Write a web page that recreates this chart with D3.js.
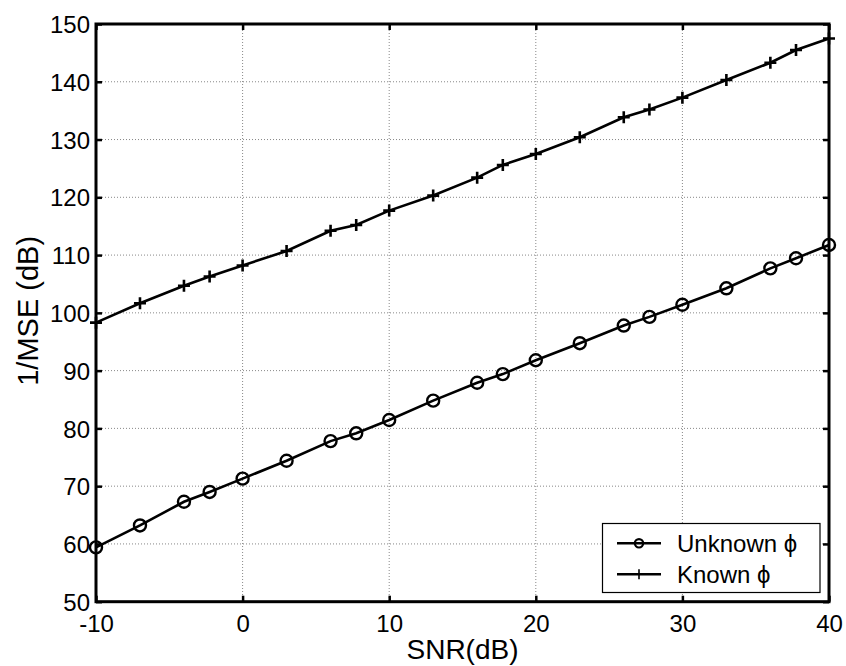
<!DOCTYPE html>
<html>
<head>
<meta charset="utf-8">
<script src="https://cdn.jsdelivr.net/npm/d3@7"></script>
<style>
  html, body { margin: 0; padding: 0; background: #fff; }
  svg { display: block; }
  text { font-family: "Liberation Sans", Arial, Helvetica, sans-serif; fill: #000; }
</style>
</head>
<body>
<svg id="chart" width="846" height="666"></svg>
<script>
// SNR sample points (dB)
const snr = [-10, -7, -4, -2.25, 0, 3, 6, 7.75, 10, 13, 16, 17.75, 20, 23, 26, 27.75, 30, 33, 36, 37.75, 40];
// 1/MSE (dB) with the phase unknown
const unknownPhi = [59.4, 63.2, 67.3, 69.0, 71.3, 74.4, 77.8, 79.15, 81.45, 84.8, 87.9, 89.4, 91.8, 94.75, 97.8, 99.3, 101.4, 104.25, 107.7, 109.45, 111.75];
// 1/MSE (dB) with the phase known
const knownPhi = [98.3, 101.65, 104.7, 106.3, 108.2, 110.7, 114.2, 115.2, 117.7, 120.3, 123.4, 125.6, 127.5, 130.4, 133.85, 135.2, 137.25, 140.3, 143.3, 145.5, 147.5];

const xTicks = [-10, 0, 10, 20, 30, 40];
const yTicks = [50, 60, 70, 80, 90, 100, 110, 120, 130, 140, 150];
const seriesNames = ["Unknown \u03d5", "Known \u03d5"];

const svg = d3.select("#chart");
const L = 96, R = 829, T = 24, B = 601.7;

const x = d3.scaleLinear().domain([-10, 40]).range([L, R]);
const y = d3.scaleLinear().domain([50, 150]).range([B, T]);

// dotted grid
const grid = svg.append("g");
grid.selectAll("line.gx").data(xTicks.slice(1, -1)).join("line")
  .attr("x1", d => x(d)).attr("x2", d => x(d)).attr("y1", T).attr("y2", B)
  .attr("stroke", "#888").attr("stroke-width", 1).attr("stroke-dasharray", "1,2");
grid.selectAll("line.gy").data(yTicks.slice(1, -1)).join("line")
  .attr("x1", L).attr("x2", R).attr("y1", d => y(d)).attr("y2", d => y(d))
  .attr("stroke", "#888").attr("stroke-width", 1).attr("stroke-dasharray", "1,2");

// axes with inward ticks on all four sides
const tickLen = 6;
const fmt = d => String(d);
const axB = svg.append("g").attr("transform", `translate(0,${B})`)
  .call(d3.axisBottom(x).tickValues(xTicks).tickSize(-tickLen).tickPadding(13).tickFormat(fmt));
const axT = svg.append("g").attr("transform", `translate(0,${T})`)
  .call(d3.axisTop(x).tickValues(xTicks).tickSize(-tickLen).tickFormat(""));
const axL = svg.append("g").attr("transform", `translate(${L},0)`)
  .call(d3.axisLeft(y).tickValues(yTicks).tickSize(-tickLen).tickPadding(6).tickFormat(fmt));
const axR = svg.append("g").attr("transform", `translate(${R},0)`)
  .call(d3.axisRight(y).tickValues(yTicks).tickSize(-tickLen).tickFormat(""));
[axB, axT, axL, axR].forEach(a => {
  a.select(".domain").remove();
  a.selectAll(".tick line").attr("stroke", "#000").attr("stroke-width", 2.5);
  a.selectAll(".tick text").attr("font-size", 24).attr("font-family", "Liberation Sans, Arial, sans-serif").attr("fill", "#000");
});
axB.selectAll(".tick text").attr("dy", "0.71em");
axL.selectAll(".tick text").attr("dy", "0.36em");

// frame
svg.append("rect").attr("x", L).attr("y", T).attr("width", R - L).attr("height", B - T)
  .attr("fill", "none").attr("stroke", "#000").attr("stroke-width", 3);

// series
const line = d3.line().x(d => x(d[0])).y(d => y(d[1]));
const unk = snr.map((s, i) => [s, unknownPhi[i]]);
const kno = snr.map((s, i) => [s, knownPhi[i]]);

svg.append("path").datum(unk).attr("d", line).attr("fill", "none").attr("stroke", "#000").attr("stroke-width", 2.6);
svg.append("path").datum(kno).attr("d", line).attr("fill", "none").attr("stroke", "#000").attr("stroke-width", 2.6);

svg.append("g").selectAll("circle").data(unk).join("circle")
  .attr("cx", d => x(d[0])).attr("cy", d => y(d[1])).attr("r", 6)
  .attr("fill", "none").attr("stroke", "#000").attr("stroke-width", 2.4);

const pm = 6;
svg.append("g").selectAll("path").data(kno).join("path")
  .attr("d", d => `M${x(d[0]) - pm},${y(d[1])}H${x(d[0]) + pm}M${x(d[0])},${y(d[1]) - pm}V${y(d[1]) + pm}`)
  .attr("fill", "none").attr("stroke", "#000").attr("stroke-width", 2.6);

// axis titles
svg.append("text").attr("x", (L + R) / 2).attr("y", 659).attr("text-anchor", "middle")
  .attr("font-size", 28).text("SNR(dB)");
svg.append("text").attr("transform", `translate(38,${(T + B) / 2 - 2}) rotate(-90)`)
  .attr("text-anchor", "middle").attr("font-size", 29).text("1/MSE (dB)");

// legend
const lg = svg.append("g");
lg.append("rect").attr("x", 602.5).attr("y", 523.5).attr("width", 217.5).attr("height", 69)
  .attr("fill", "#fff").attr("stroke", "#000").attr("stroke-width", 1.2);
const rows = [543.3, 574.3];
rows.forEach((ry, i) => {
  lg.append("line").attr("x1", 617).attr("x2", 661).attr("y1", ry).attr("y2", ry)
    .attr("stroke", "#000").attr("stroke-width", 2.6);
  if (i === 0) {
    lg.append("circle").attr("cx", 639).attr("cy", ry).attr("r", 4.2)
      .attr("fill", "none").attr("stroke", "#000").attr("stroke-width", 2.2);
  } else {
    lg.append("line").attr("x1", 639).attr("x2", 639).attr("y1", ry - 5).attr("y2", ry + 5)
      .attr("stroke", "#000").attr("stroke-width", 1.6);
  }
  lg.append("text").attr("x", 677).attr("y", ry).attr("dy", "0.36em")
    .attr("font-size", 24).text(seriesNames[i]);
});
</script>
</body>
</html>
